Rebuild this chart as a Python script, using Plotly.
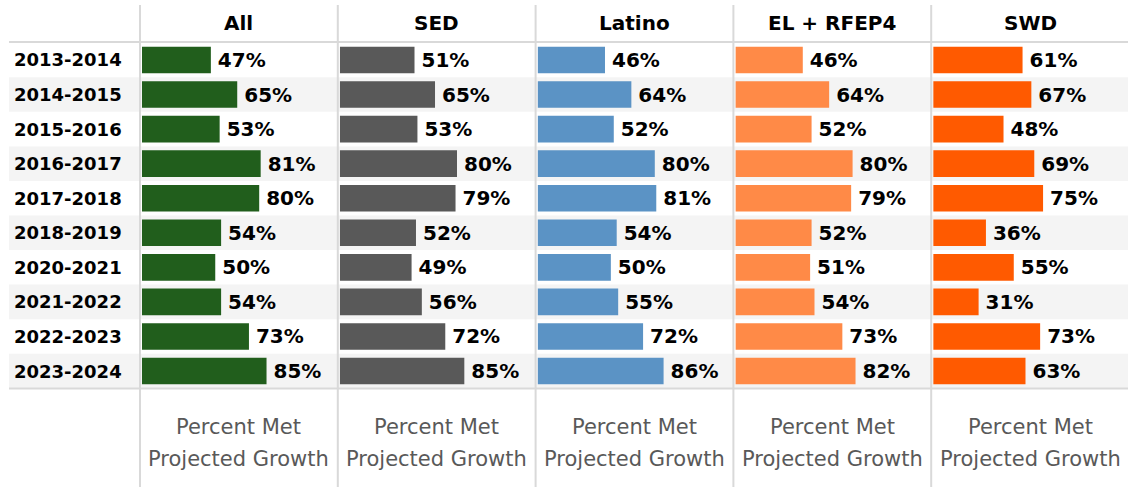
import plotly.graph_objects as go

years = ["2013-2014", "2014-2015", "2015-2016", "2016-2017", "2017-2018",
         "2018-2019", "2020-2021", "2021-2022", "2022-2023", "2023-2024"]
groups = ["All", "SED", "Latino", "EL + RFEP4", "SWD"]
all_vals = [47, 65, 53, 81, 80, 54, 50, 54, 73, 85]
sed_vals = [51, 65, 53, 80, 79, 52, 49, 56, 72, 85]
latino_vals = [46, 64, 52, 80, 81, 54, 50, 55, 72, 86]
el_vals = [46, 64, 52, 80, 79, 52, 51, 54, 73, 82]
swd_vals = [61, 67, 48, 69, 75, 36, 55, 31, 73, 63]
colors = ["#215E1C", "#595959", "#5B93C5", "#FF8A47", "#FF5A00"]
footer_lines = ["Percent Met", "Projected Growth"]

series = [all_vals, sed_vals, latino_vals, el_vals, swd_vals]

W, H = 1128, 487
px_per_pct = 1.465
panel_w = 197.8
first_div = 140.0

def px(x):
    return x / W

def py(y):
    return 1 - y / H

fig = go.Figure()
layout_axes = {}
for i, (g, vals, col) in enumerate(zip(groups, series, colors)):
    xname = "x" if i == 0 else f"x{i+1}"
    axkey = "xaxis" if i == 0 else f"xaxis{i+1}"
    start = first_div + 2 + panel_w * i
    width_px = 190
    fig.add_trace(go.Bar(
        x=vals, y=years, orientation="h", xaxis=xname, yaxis="y",
        marker=dict(color=col, line=dict(width=0)),
        width=0.77,
        text=[f"\u2009{v}%" for v in vals], textposition="outside",
        constraintext="none", cliponaxis=False,
        textfont=dict(family="DejaVu Sans", size=20, color="black", weight="bold"),
        hoverinfo="skip", showlegend=False,
    ))
    layout_axes[axkey] = dict(
        domain=[px(start), px(start + width_px)],
        range=[0, width_px / px_per_pct], anchor="y",
        showticklabels=False, showgrid=False, zeroline=False, showline=False,
        fixedrange=True,
    )

fig.update_layout(**layout_axes)
fig.update_layout(
    width=W, height=H,
    margin=dict(l=0, r=0, t=0, b=0),
    paper_bgcolor="white", plot_bgcolor="rgba(0,0,0,0)",
    yaxis=dict(domain=[py(388.3), py(42.7)], range=[9.5, -0.5],
               categoryorder="array", categoryarray=years,
               showticklabels=False, showgrid=False, zeroline=False, fixedrange=True),
    bargap=0.23,
)

shapes = []
for i, yr in enumerate(years):
    if i % 2 == 1:
        shapes.append(dict(type="rect", xref="paper", yref="y",
                           x0=px(9), x1=1, y0=i - 0.5, y1=i + 0.5,
                           fillcolor="#F4F4F4", line=dict(width=0), layer="below"))
# horizontal rules
for yy in (42, 388.5):
    shapes.append(dict(type="line", xref="paper", yref="paper",
                       x0=px(9), x1=1, y0=py(yy), y1=py(yy),
                       line=dict(color="#D9D9D9", width=2), layer="below"))
# vertical dividers
for i in range(5):
    xx = first_div + panel_w * i
    shapes.append(dict(type="line", xref="paper", yref="paper",
                       x0=px(xx), x1=px(xx), y0=py(5), y1=0,
                       line=dict(color="#D9D9D9", width=2), layer="below"))
fig.update_layout(shapes=shapes)

ann = []
for yr in years:
    ann.append(dict(text=yr, xref="paper", yref="y", x=px(12), y=yr,
                    xanchor="left", yanchor="middle", showarrow=False,
                    font=dict(family="DejaVu Sans", size=18, color="black", weight="bold")))
for i, g in enumerate(groups):
    cx = first_div + panel_w * i + panel_w / 2
    ann.append(dict(text=g, xref="paper", yref="paper", x=px(cx), y=py(23),
                    xanchor="center", yanchor="middle", showarrow=False,
                    font=dict(family="DejaVu Sans", size=20, color="black", weight="bold")))
    for j, (line, yy) in enumerate(zip(footer_lines, (427, 459))):
        ann.append(dict(text=line, xref="paper", yref="paper", x=px(cx), y=py(yy),
                        xanchor="center", yanchor="middle", showarrow=False,
                        font=dict(family="DejaVu Sans", size=21, color="#595959")))
fig.update_layout(annotations=ann)

fig.write_html("out.html", config={"displayModeBar": False, "staticPlot": True},
               post_script="document.body.style.margin='0';document.body.style.overflow='hidden';")
